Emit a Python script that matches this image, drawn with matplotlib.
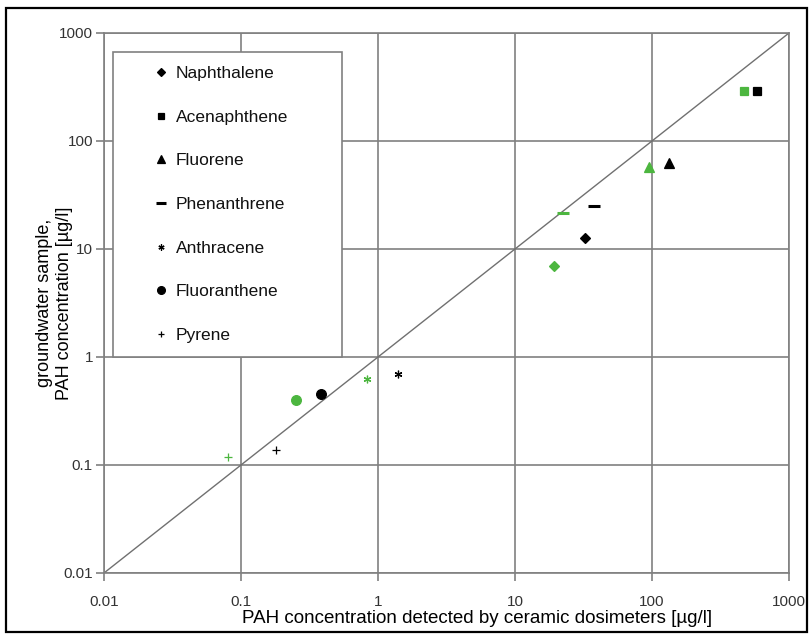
import numpy as np
import matplotlib
matplotlib.use("Agg")
import matplotlib.pyplot as plt
from matplotlib.patches import Rectangle

plt.rcParams['font.family'] = ['Liberation Sans', 'DejaVu Sans']

# PAH names, legend order
compounds = ["Naphthalene", "Acenaphthene", "Fluorene", "Phenanthrene",
             "Anthracene", "Fluoranthene", "Pyrene"]

# black series: dosimeter value (x) vs groundwater sample (y)
black_x = [32.4, 580, 132, 37.8, 1.41, 0.386, 0.18]
black_y = [12.6, 292, 62.5, 25.2, 0.70, 0.452, 0.137]

# green series
green_x = [19.3, 472, 95, 22.4, 0.827, 0.251, 0.080]
green_y = [6.97, 292, 57.8, 21.5, 0.62, 0.40, 0.119]

ticks = [0.01, 0.1, 1, 10, 100, 1000]
tick_labels = ["0.01", "0.1", "1", "10", "100", "1000"]

markers = ['D', 's', '^', '_', (6, 2, 0), 'o', '+']
sizes = [5, 6, 7, 9, 5.5, 7, 6]
green = '#4cb63f'

fig = plt.figure(figsize=(8.12, 6.37), dpi=100)
ax = fig.add_axes([104/812, 1 - 573/637, 685/812, 540/637])
ax.set_xscale('log')
ax.set_yscale('log')
ax.set_xlim(0.01, 1000)
ax.set_ylim(0.01, 1000)

ax.plot([0.01, 1000], [0.01, 1000], color='#707070', lw=1.0, zorder=2)

handles = []
for i, name in enumerate(compounds):
    m = markers[i]
    mew = 2.2 if m == '_' else 0.9
    ax.plot(green_x[i], green_y[i], linestyle='none', marker=m, ms=sizes[i],
            color=green, mec=green, mew=mew, zorder=3)
    h, = ax.plot(black_x[i], black_y[i], linestyle='none', marker=m, ms=sizes[i],
                 color='black', mec='black', mew=mew, zorder=4, label=name)
    handles.append(h)

ax.set_xticks(ticks)
ax.set_xticklabels(tick_labels)
ax.set_yticks(ticks)
ax.set_yticklabels(tick_labels)
ax.minorticks_off()
ax.tick_params(axis='both', which='major', direction='out', length=6,
               width=1.2, color='#808080', labelsize=11, labelcolor='#333333')
ax.tick_params(axis='x', pad=10)
ax.tick_params(axis='y', pad=2)

ax.grid(True, which='major', color='#808080', lw=1.2)
ax.set_axisbelow(True)
for s in ax.spines.values():
    s.set_color('#808080')
    s.set_linewidth(1.2)

ax.set_xlabel("PAH concentration detected by ceramic dosimeters [µg/l]",
              fontsize=13.5, labelpad=1)
ax.xaxis.set_label_coords(0.545, -37/540)
ax.set_ylabel("groundwater sample,\nPAH concentration [µg/l]", fontsize=13)
ax.yaxis.set_label_coords(-31/685, 0.5)

# legend box drawn separately so the entries can sit further in
box = Rectangle((9/685, 1 - 324/540), 229/685, 305/540, transform=ax.transAxes,
                facecolor='white', edgecolor='#808080', lw=1.2, zorder=5)
ax.add_patch(box)
leg = ax.legend(handles=handles, loc='upper left',
                bbox_to_anchor=(50/685, 1 - 33/540),
                fontsize=12.5, frameon=False, handlelength=0.8,
                handletextpad=0.45, labelspacing=1.64, borderpad=0,
                borderaxespad=0, markerscale=0.8)
leg.set_zorder(6)
for t in leg.get_texts():
    t.set_color('#111111')

# outer border of the picture
fig.patches.append(Rectangle((6/812, 5/637), 801/812, 624/637,
                             transform=fig.transFigure, fill=False,
                             edgecolor='black', lw=1.6))

fig.savefig("out.png", dpi=100)
